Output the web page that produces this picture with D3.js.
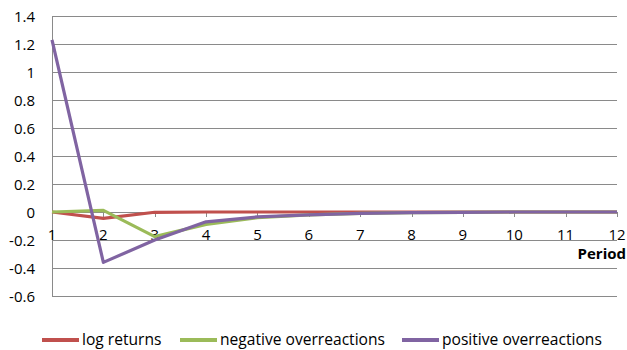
<!DOCTYPE html>
<html><head><meta charset="utf-8">
<script src="https://cdn.jsdelivr.net/npm/d3@7"></script>
<style>body{margin:0;background:#fff}svg{display:block}text{font-family:"Open Sans",sans-serif;fill:#000}</style>
</head><body>
<svg id="c" width="627" height="350"></svg>
<script>
const periods = [1,2,3,4,5,6,7,8,9,10,11,12];
const logReturns = [0,-0.045,-0.002,0,0,0,0,0,0,0,0,0];
const negOver = [0,0.012,-0.176,-0.088,-0.04,-0.02,-0.01,-0.005,-0.002,0,0,0];
const posOver = [1.229,-0.36,-0.2,-0.07,-0.035,-0.02,-0.01,-0.005,-0.002,0,0,0];
const yTicks = [-0.6,-0.4,-0.2,0,0.2,0.4,0.6,0.8,1,1.2,1.4];
const seriesNames = ["log returns","negative overreactions","positive overreactions"];
const colors = ["#C0504D","#9BBB59","#8064A2"];

const svg = d3.select("#c");
const x = d3.scaleLinear().domain([1,12]).range([52,617]);
const y = d3.scaleLinear().domain([-0.6,1.4]).range([296,16]);

svg.append("g").selectAll("line").data(yTicks).join("line")
  .attr("x1",52).attr("x2",617).attr("y1",d=>y(d)+0.5).attr("y2",d=>y(d)+0.5)
  .attr("stroke","#8a8a8a").attr("stroke-width",1);
svg.append("line").attr("x1",52.5).attr("x2",52.5).attr("y1",y(1.4)).attr("y2",y(-0.6)).attr("stroke","#8a8a8a");
const fmt = d => d===0?"0":String(+d.toFixed(1));
svg.append("g").selectAll("text").data(yTicks).join("text")
  .attr("x",35).attr("y",d=>y(d)+0.5).attr("dy","0.35em").attr("text-anchor","end")
  .attr("font-size",15).text(fmt);

svg.append("g").selectAll("line").data(periods).join("line")
  .attr("x1",d=>Math.round(x(d))+0.5).attr("x2",d=>Math.round(x(d))+0.5)
  .attr("y1",y(0)).attr("y2",y(0)+5).attr("stroke","#8a8a8a");
svg.append("g").selectAll("text").data(periods).join("text")
  .attr("x",d=>x(d)).attr("y",235).attr("dy","0.35em").attr("text-anchor","middle")
  .attr("font-size",15).text(d=>d);
svg.append("text").attr("x",626).attr("y",254).attr("dy","0.35em").attr("text-anchor","end")
  .attr("font-size",15).attr("font-weight","bold").text("Period");

const data = [logReturns,negOver,posOver];
const line = d3.line().x((d,i)=>x(periods[i])).y(d=>y(d));
svg.append("g").selectAll("path").data(data).join("path")
  .attr("d",line).attr("fill","none").attr("stroke",(d,i)=>colors[i])
  .attr("stroke-width",3.2).attr("stroke-linejoin","round");

const legX = [42,180,402];
const lg = svg.append("g").selectAll("g").data(seriesNames).join("g");
lg.append("line").attr("x1",(d,i)=>legX[i]).attr("x2",(d,i)=>legX[i]+37)
  .attr("y1",340).attr("y2",340).attr("stroke",(d,i)=>colors[i]).attr("stroke-width",4);
lg.append("text").attr("x",(d,i)=>legX[i]+40).attr("y",340).attr("dy","0.35em")
  .attr("font-size",15.6).text(d=>d);
</script>
</body></html>
